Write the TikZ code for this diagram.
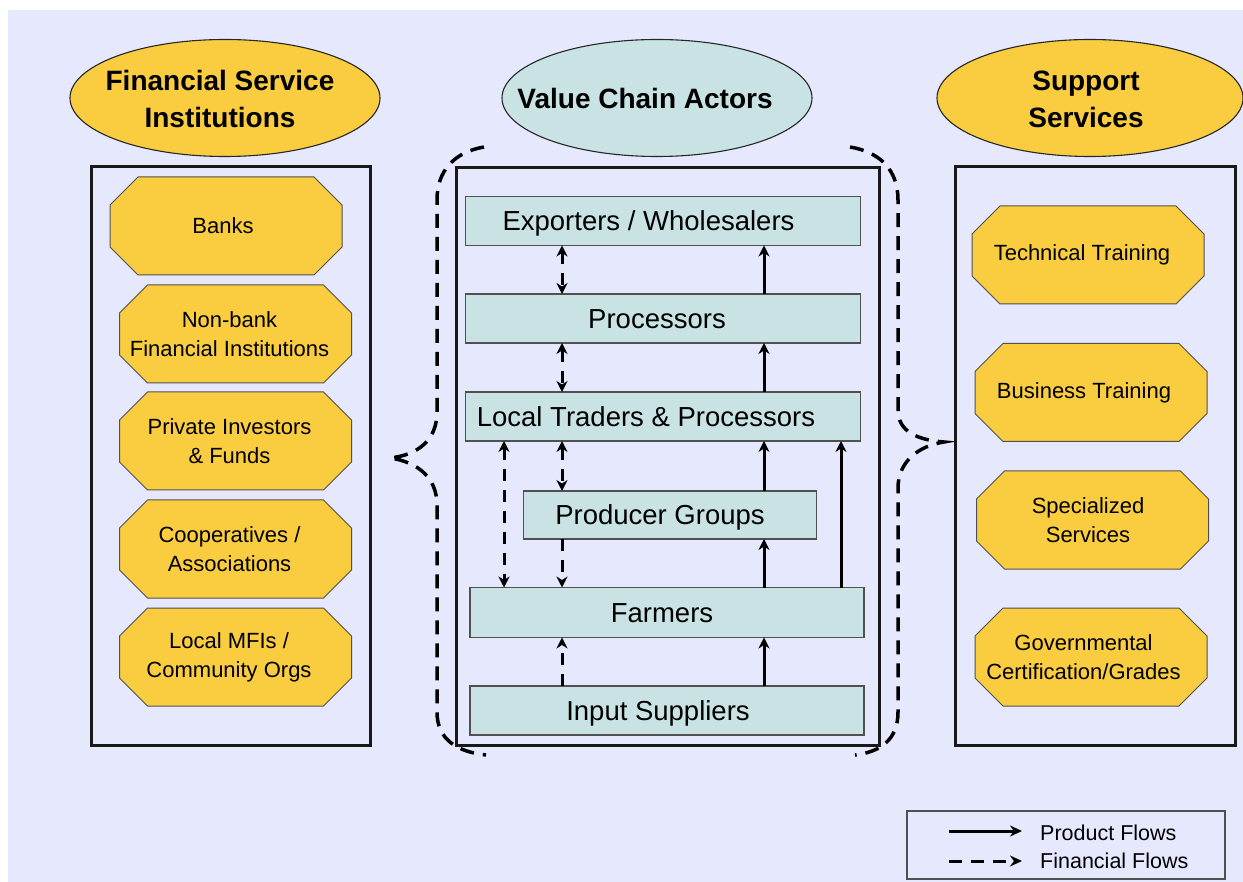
\documentclass[tikz,border=0pt]{standalone}
\usepackage{fontspec}
\setmainfont{Liberation Sans}
\usetikzlibrary{shapes.geometric,arrows.meta,backgrounds}

\definecolor{panel}{HTML}{E6E8FE}
\definecolor{gold}{HTML}{F9CD3F}
\definecolor{aqua}{HTML}{C9E3E5}
\definecolor{edge}{HTML}{505050}

\tikzset{
  x=1pt, y=-1pt,
  head/.style={ellipse, draw=black!85, line width=1.1pt, minimum width=310pt,
    minimum height=117pt, inner sep=0pt},
  headtext/.style={inner sep=0pt, align=center,
    font=\fontsize{28}{37}\selectfont\bfseries},
  octbox/.style={rectangle, minimum width=232pt, minimum height=98pt,
    inner sep=0pt, outer sep=0pt, align=center,
    font=\fontsize{22}{29}\selectfont},
  octfill/.style={fill=gold, draw=edge, line width=1pt, line join=miter},
  frame/.style={draw=black!90, line width=3pt},
  vcbox/.style={rectangle, draw=edge, line width=1.2pt, fill=aqua,
    minimum width=395pt, minimum height=49pt, inner sep=0pt, outer sep=0pt,
    text height=19.8pt, text depth=0pt,
    font=\fontsize{27.5}{33}\selectfont},
  prod/.style={line width=3pt, -{Stealth[length=11pt,width=11pt]}},
  finone/.style={line width=3pt, dash pattern=on 12pt off 9pt,
    -{Stealth[length=11pt,width=11pt]}},
  fintwo/.style={line width=3pt, dash pattern=on 12pt off 9pt,
    {Stealth[length=11pt,width=11pt]}-{Stealth[length=11pt,width=11pt]}},
  brace/.style={line width=3.5pt, dash pattern=on 14pt off 9pt},
  keyprod/.style={line width=3pt, -{Stealth[length=12pt,width=11pt]}},
  keyfin/.style={line width=3pt, dash pattern=on 13pt off 9pt,
    -{Stealth[length=12pt,width=11pt]}},
  keytext/.style={anchor=west, inner sep=0pt, font=\fontsize{21.5}{26}\selectfont}
}

% chamfered outline behind a named octbox node, moved right by #2
\newcommand{\octagon}[2]{%
  \filldraw[octfill]
    ([xshift=28pt+#2]#1.north west) -- ([xshift=-28pt+#2]#1.north east)
    -- ([xshift=#2,yshift=-28pt]#1.north east) -- ([xshift=#2,yshift=28pt]#1.south east)
    -- ([xshift=-28pt+#2]#1.south east) -- ([xshift=28pt+#2]#1.south west)
    -- ([xshift=#2,yshift=28pt]#1.south west) -- ([xshift=#2,yshift=-28pt]#1.north west) -- cycle;}

% label set slightly left of its box centre
\newcommand{\leftby}[2]{#2\hspace*{#1}}

\begin{document}
\begin{tikzpicture}
\useasboundingbox (0,0) rectangle (1243,882);

% ---------- column headings ----------
\node[head, fill=gold] (fsi) at (225,98) {};
\node[headtext] (fsit) at (220,99) {Financial Service\\Institutions};
\node[head, fill=aqua] (vca) at (657,98) {};
\node[headtext] (vcat) at (645,98) {Value Chain Actors};
\node[head, fill=gold, minimum width=306pt] (sup) at (1090,98) {};
\node[headtext] (supt) at (1086,99) {Support\\Services};

% ---------- outer frames ----------
\draw[frame] (91,167) rectangle (370,745);
\draw[frame] (456,168) rectangle (879,745);
\draw[frame] (955,167) rectangle (1235,745);

% ---------- financial service institutions ----------
\node[octbox] (banks) at (223,226) {Banks};
\node[octbox] (nbfi)  at (229.5,334) {Non-bank\\Financial Institutions};
\node[octbox] (priv)  at (229.5,441) {Private Investors\\\& Funds};
\node[octbox] (coop)  at (229.5,549) {Cooperatives /\\Associations};
\node[octbox] (mfi)   at (229,657) {Local MFIs /\\Community Orgs};

% ---------- support services ----------
\node[octbox] (tech) at (1082,255) {Technical Training};
\node[octbox] (bus)  at (1084,392.5) {Business Training};
\node[octbox] (spec) at (1088,520) {Specialized\\Services};
\node[octbox] (gov)  at (1083.5,657) {Governmental\\Certification/Grades};

\begin{scope}[on background layer]
  \fill[white] (0,0) rectangle (1243,882);
  \fill[panel] (8,10) rectangle (1243,882);
  \foreach \n/\d in {banks/3pt,nbfi/6pt,priv/6pt,coop/6pt,mfi/6.5pt,
                     tech/6pt,bus/7pt,spec/4.5pt,gov/7.5pt} {\octagon{\n}{\d}}
\end{scope}

% ---------- value chain actors ----------
\node[vcbox] (exp)  at (663,221)   {\leftby{29pt}{Exporters / Wholesalers}};
\node[vcbox] (proc) at (663,318.5) {\leftby{12pt}{Processors}};
\node[vcbox] (ltp)  at (663,416.5) {\leftby{34pt}{Local Traders \& Processors}};
\node[vcbox, minimum width=293pt, minimum height=48pt] (pg) at (670,515)
  {\leftby{20pt}{Producer Groups}};
\node[vcbox, minimum width=394pt, minimum height=50pt] (farm) at (667,612.5)
  {\leftby{10pt}{Farmers}};
\node[vcbox, minimum width=394pt] (inp) at (667,710.5)
  {\leftby{18pt}{Input Suppliers}};

% flow lanes
\coordinate (laneA) at (504,0);
\coordinate (laneB) at (562,0);
\coordinate (laneC) at (764,0);
\coordinate (laneD) at (841,0);

\draw[fintwo] (exp.south -| laneB) -- (proc.north -| laneB);
\draw[prod]   (proc.north -| laneC) -- (exp.south -| laneC);
\draw[fintwo] (proc.south -| laneB) -- (ltp.north -| laneB);
\draw[prod]   (ltp.north -| laneC) -- (proc.south -| laneC);
\draw[fintwo] (ltp.south -| laneA) -- (farm.north -| laneA);
\draw[fintwo] (ltp.south -| laneB) -- (pg.north -| laneB);
\draw[finone] (pg.south -| laneB) -- (farm.north -| laneB);
\draw[prod]   (pg.north -| laneC) -- (ltp.south -| laneC);
\draw[prod]   (farm.north -| laneC) -- (pg.south -| laneC);
\draw[prod]   (farm.north -| laneD) -- (ltp.south -| laneD);
\draw[finone] (inp.north -| laneB) -- (farm.south -| laneB);
\draw[prod]   (inp.north -| laneC) -- (farm.south -| laneC);

% ---------- dashed braces round the value chain ----------
\draw[brace] (484,147) .. controls (455,152) and (437,170) .. (437,200)
  -- (437,412) .. controls (437,440) and (418,455) .. (390,458)
  .. controls (418,462) and (437,478) .. (437,505)
  -- (437,712) .. controls (437,740) and (458,752) .. (486,755);
\draw[brace] (850,147) .. controls (880,152) and (898,170) .. (898,200)
  -- (898,410) .. controls (898,432) and (918,440) .. (944,442)
  .. controls (918,446) and (898,462) .. (898,488)
  -- (898,712) .. controls (898,740) and (880,752) .. (855,755);

% ---------- legend ----------
\node[draw=edge, line width=1.2pt, minimum width=318pt, minimum height=68pt,
  inner sep=0pt] (key) at (1066,845) {};
\coordinate (kp1) at (949,831);
\coordinate (kp2) at (1022,831);
\coordinate (kf1) at (949,861);
\coordinate (kf2) at (1022,861);
\draw[keyprod] (kp1) -- (kp2);
\draw[keyfin]  (kf1) -- (kf2);
\node[keytext] (kpt) at (1040,833) {Product Flows};
\node[keytext] (kft) at (1040,861) {Financial Flows};

\end{tikzpicture}
\end{document}
